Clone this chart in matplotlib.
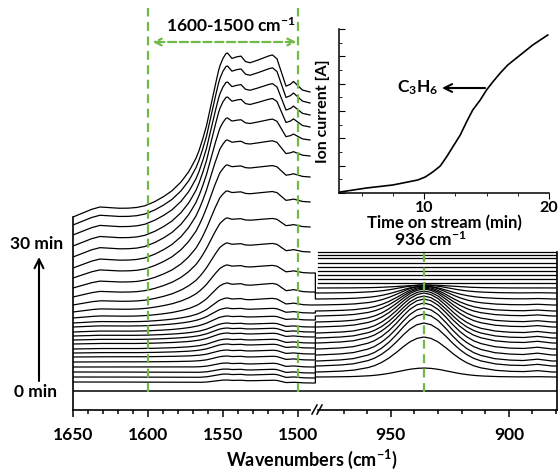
import numpy as np
import matplotlib
matplotlib.use("Agg")
import matplotlib.pyplot as plt
from matplotlib.lines import Line2D

# ---- stacked DRIFT spectra, offset intensities (a.u.), spectrum 1 (bottom) .. 26 (top, 30 min)
# left window 1650-1492 cm-1: value at 1650, at 1492 and at the 1547 band maximum
left_start = [0.09, 0.14, 0.19, 0.24, 0.29, 0.34, 0.38, 0.42, 0.47, 0.51, 0.55, 0.59, 0.64,
              0.68, 0.73, 0.79, 0.86, 0.94, 1.03, 1.13, 1.23, 1.34, 1.45, 1.56, 1.66, 1.74]
left_end = [0.08, 0.13, 0.18, 0.24, 0.31, 0.37, 0.43, 0.48, 0.54, 0.59, 0.64, 0.71, 0.78,
            0.86, 0.99, 1.18, 1.39, 1.64, 1.89, 2.14, 2.35, 2.51, 2.64, 2.76, 2.88, 2.99]
peak_1547 = [0.11, 0.17, 0.22, 0.28, 0.35, 0.41, 0.47, 0.52, 0.58, 0.63, 0.68, 0.75, 0.83,
             0.93, 1.08, 1.26, 1.48, 1.73, 2.00, 2.26, 2.51, 2.73, 2.94, 3.09, 3.25, 3.38]

# shape of the broad background rise (0 at 1650, 1 on the plateau)
ramp_wn = [1650, 1644, 1638, 1632, 1626, 1620, 1614, 1608, 1602, 1596, 1590, 1584, 1578,
           1573, 1568, 1564, 1560, 1556, 1552, 1548, 1492]
ramp_val = [0, 0.03, 0.06, 0.08, 0.075, 0.07, 0.07, 0.075, 0.09, 0.12, 0.16, 0.21, 0.28,
            0.36, 0.46, 0.57, 0.70, 0.83, 0.94, 1.0, 1.0]
# shape of the 1600-1500 band structure (1 at 1547)
band_wn = [1650, 1572, 1566, 1561, 1557, 1553, 1550, 1547, 1544, 1541, 1538, 1535, 1532,
           1528, 1524, 1520, 1517, 1514, 1511, 1508, 1505, 1503, 1500, 1497, 1492]
band_val = [0, 0, 0.05, 0.2, 0.5, 0.82, 0.96, 1.0, 0.86, 0.9, 0.92, 0.78, 0.75,
            0.8, 0.86, 0.92, 0.95, 0.85, 0.5, 0.15, 0.2, 0.27, 0.16, 0.05, 0]

# right window 983-880 cm-1: baseline of each spectrum and height of the 936 band
base_936 = [0.14, 0.19, 0.25, 0.30, 0.36, 0.42, 0.48, 0.53, 0.58, 0.64, 0.69, 0.75, 0.80,
            0.86, 0.92, 0.98, 1.03, 1.08, 1.12, 1.16, 1.20, 1.24, 1.28, 1.33, 1.36, 1.39]
height_936 = [0.09, 0.35, 0.43, 0.47, 0.47, 0.46, 0.44, 0.42, 0.40, 0.36, 0.33, 0.28, 0.24,
              0.19, 0.13, 0.08, 0.03, 0, 0, 0, 0, 0, 0, 0, 0, 0]
shape_wn = [983, 981, 972, 966, 960, 957, 954, 951, 948, 945, 942, 939, 936, 933, 930,
            927, 924, 921, 918, 915, 912, 906, 900, 894, 888, 882, 879.6]
shape_val = [0, 0, 0.02, 0.05, 0.12, 0.18, 0.27, 0.39, 0.54, 0.71, 0.86, 0.96, 1.0, 0.96, 0.86,
             0.71, 0.54, 0.39, 0.27, 0.18, 0.12, 0.05, 0.02, 0.01, 0.04, 0, 0]
n_joined = 16  # lower spectra drawn continuously across the axis break

# ---- inset: MS signal of propene
time_min = [3.3, 5.4, 7.5, 9.5, 10.1, 10.7, 11.3, 11.8, 12.3, 12.9, 13.4, 13.9, 14.5, 15.0,
            15.5, 16.1, 16.7, 17.4, 18.1, 18.7, 19.3, 19.9]
ion_current = [1, 5, 8, 13, 16, 21, 27, 36, 46, 58, 71, 83, 93, 103,
               111, 120, 128, 135, 142, 148, 153, 158]

plt.rcParams["font.family"] = ["Lato", "DejaVu Sans"]
plt.rcParams["font.weight"] = "bold"
plt.rcParams["axes.labelweight"] = "bold"
plt.rcParams["mathtext.fontset"] = "custom"
plt.rcParams["mathtext.rm"] = "Lato"
plt.rcParams["mathtext.bf"] = "Lato:bold"
plt.rcParams["mathtext.default"] = "bf"

W, H = 558, 470
green = "#72b94a"
dash = (0, (4, 2.5))


def fx(px):
    return px / W


def fy(py):
    return 1 - py / H


fig = plt.figure(figsize=(W / 100, H / 100), dpi=100)
axL = fig.add_axes([fx(73), fy(410), 240 / W, 410 / H])
axR = fig.add_axes([fx(313), fy(410), 244 / W, 410 / H])
for ax in (axL, axR):
    ax.set_facecolor("none")
    ax.set_ylim(-0.19, 3.91)
    ax.spines["top"].set_visible(False)
    ax.tick_params(axis="y", left=False, right=False, labelleft=False)
    ax.tick_params(axis="x", which="major", length=5, width=1.1, pad=7, labelsize=12.5)
    ax.tick_params(axis="x", which="minor", length=3, width=1.1)
    for s in ax.spines.values():
        s.set_linewidth(1.2)
axL.set_xlim(1650, 1490)
axR.set_xlim(983, 879.6)
axL.spines["right"].set_visible(False)
axR.spines["left"].set_visible(False)
axL.spines["left"].set_bounds(-0.19, left_start[-1])
axL.spines["bottom"].set_bounds(1650, 1492)
axR.spines["right"].set_bounds(-0.19, base_936[-1])
axR.spines["bottom"].set_bounds(981, 879.6)
axL.set_xticks([1650, 1600, 1550, 1500])
axL.set_xticks([w for w in range(1510, 1650, 10) if w % 50], minor=True)
axR.set_xticks([950, 900])
axR.set_xticks([970, 960, 940, 930, 920, 910, 890, 880], minor=True)

wn_left = np.linspace(1650, 1492, 317)
ramp = np.interp(wn_left, ramp_wn[::-1], ramp_val[::-1])
band = np.interp(wn_left, band_wn[::-1], band_val[::-1])
wn_right = np.linspace(982, 879.6, 300)
shape = np.interp(wn_right, shape_wn[::-1], shape_val[::-1])

axL.plot([1650, 1490], [0, 0], color="black", lw=1.1)
axR.plot([983, 879.6], [0, 0], color="black", lw=1.1)
for k in range(len(left_start)):
    y = left_start[k] + (left_end[k] - left_start[k]) * ramp + (peak_1547[k] - left_end[k]) * band
    yr = base_936[k] + height_936[k] * shape
    if k < n_joined:
        axL.plot(np.append(wn_left, 1490), np.append(y, y[-1]), color="black", lw=0.9)
        axR.plot(np.concatenate([[983, 982], wn_right]), np.concatenate([[y[-1], y[-1]], yr]),
                 color="black", lw=0.9)
    else:
        axL.plot(wn_left, y, color="black", lw=0.9)
        axR.plot(wn_right - 1, yr, color="black", lw=0.9)

# green markers
for w in (1600, 1500):
    axL.plot([w, w], [-0.01, 3.83], color=green, ls=dash, lw=1.6)
axL.annotate("", xy=(1597, 3.49), xytext=(1501, 3.49),
             arrowprops=dict(arrowstyle="<->", color=green, lw=1.6, ls="--",
                             shrinkA=0, shrinkB=0, mutation_scale=12))
axR.plot([936, 936], [-0.01, base_936[-1]], color=green, ls=dash, lw=1.6)

fig.text(fx(231), fy(26), r"1600-1500 cm$^{-1}$", ha="center", va="center", fontsize=12.5)
fig.text(fx(430), fy(240), r"936 cm$^{-1}$", ha="center", va="center", fontsize=12.5)
fig.text(fx(312), fy(459), r"Wavenumbers (cm$^{-1}$)", ha="center", va="center", fontsize=13)
fig.text(fx(37), fy(244), "30 min", ha="center", va="center", fontsize=12.5)
fig.text(fx(35), fy(392), "0 min", ha="center", va="center", fontsize=12.5)
axL.annotate("", xy=(fx(39), fy(257)), xytext=(fx(39), fy(381)), xycoords="figure fraction",
             arrowprops=dict(arrowstyle="->", lw=1.5, color="black", mutation_scale=16,
                             shrinkA=0, shrinkB=0))

# axis break marks
for x0 in (312, 317):
    fig.add_artist(Line2D([fx(x0), fx(x0 + 5)], [fy(414), fy(405)], color="black", lw=1.1))

# inset
axI = fig.add_axes([fx(339), fy(193), 210 / W, 164 / H])
axI.set_facecolor("none")
axI.plot(time_min, ion_current, color="black", lw=1.2)
axI.set_xlim(3.2, 20)
axI.set_ylim(0, 164)
axI.spines["top"].set_visible(False)
axI.spines["right"].set_visible(False)
for s in ("left", "bottom"):
    axI.spines[s].set_linewidth(1.1)
axI.set_xticks([10, 20])
axI.set_xticklabels(["10", "20"], fontweight="bold")
axI.set_xticks([5, 7.5, 12.5, 15, 17.5], minor=True)
axI.set_yticks(np.arange(0, 165, 27.3))
axI.set_yticks(np.arange(13.65, 165, 27.3), minor=True)
axI.tick_params(axis="x", which="major", length=4, labelsize=11.5, pad=2)
axI.tick_params(axis="x", which="minor", length=2)
axI.tick_params(axis="y", which="major", direction="in", length=4, labelleft=False)
axI.tick_params(axis="y", which="minor", direction="in", length=2)
axI.set_xlabel("Time on stream (min)", fontsize=12, fontweight="bold", labelpad=0)
axI.set_ylabel("Ion current [A]", fontsize=11.5, fontweight="bold", labelpad=3)
fig.text(fx(418), fy(88), r"C$_3$H$_6$", ha="center", va="center", fontsize=12.5)
axI.annotate("", xy=(fx(442), fy(88)), xytext=(fx(485), fy(88)), xycoords="figure fraction",
             arrowprops=dict(arrowstyle="->", lw=1.5, color="black", mutation_scale=14,
                             shrinkA=0, shrinkB=0))

fig.savefig("out.png", dpi=100)
